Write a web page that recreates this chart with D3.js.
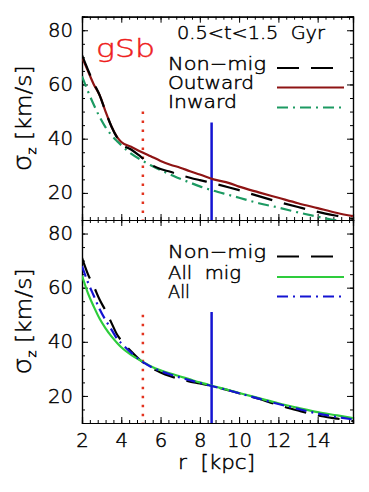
<!DOCTYPE html>
<html><head><meta charset="utf-8">
<script src="https://cdn.jsdelivr.net/npm/d3@7"></script>
<style>
html,body{margin:0;padding:0;background:#fff;}
svg{display:block;}
text{font-family:"DejaVu Sans",sans-serif;font-weight:200;fill:#000;stroke:#000;stroke-width:0.45px;}
</style></head>
<body><svg id="c" width="369" height="492"></svg>
<script>
// ---- data ----
const radius = [2, 2.3, 2.6, 2.9, 3.2, 3.5, 3.8, 4.0, 4.5, 5.0, 5.5, 6.0, 6.5, 7, 7.5, 8, 8.7, 9.5, 10, 11, 12, 13, 14, 15, 15.8];
// top panel
const nonMigTop = [70.8, 65.5, 60.5, 56, 50, 44.5, 40.2, 38.2, 36, 33.3, 30.5, 28.8, 27.8, 26.6, 25.6, 24.7, 23.5, 22, 21, 18.8, 16.7, 14.8, 13, 11.5, 10.4];
const outward   = [70, 65, 60, 56, 50, 44.5, 40.5, 38.8, 37, 35.2, 33.5, 31.8, 30.4, 29.3, 28, 26.8, 25, 23.6, 22.3, 20.2, 18.2, 16.2, 14.4, 12.6, 11.4];
const inward    = [63, 57.5, 52.5, 48, 44.2, 41.3, 39, 37.6, 34.5, 32.2, 30.2, 28.4, 26.8, 25.2, 23.8, 22.4, 20.8, 19.2, 18.2, 16.2, 14.6, 12.8, 11.2, 9.8, 9.0];
// bottom panel
const nonMigBot = [71, 65, 60.5, 55.5, 51.5, 47, 42.5, 40.5, 36.5, 33, 30.5, 28.7, 27.3, 26.2, 25.3, 24.6, 23.5, 22, 21, 19, 16.6, 14.6, 12.8, 11.6, 10.7];
const allMig    = [64.5, 58, 53, 48.5, 45, 42, 39.5, 38, 35.2, 33, 31, 29.5, 28.3, 27.2, 26.1, 25, 23.6, 22.1, 21.1, 19.2, 17.3, 15.6, 14, 12.8, 11.8];
const allStars  = [68, 62, 57, 52, 48, 44.5, 41, 39.5, 36, 33, 30.8, 29.2, 27.9, 26.8, 25.8, 24.8, 23.5, 22, 21, 19, 17, 15.2, 13.5, 12.2, 11.3];
const xTicks = [2, 4, 6, 8, 10, 12, 14];
const yTicks = [20, 40, 60, 80];
const rDotted = 5.1, rSolid = 8.6;
const dottedTop = 50, solidTopA = 46, solidTopB = 51;

// ---- layout ----
const svg = d3.select("#c");
const L = 82, R = 353;
const panels = [{t: 16.7, b: 220}, {t: 220, b: 423}];
const x = d3.scaleLinear().domain([2, 15.8]).range([L, R]);
const xMinor = d3.range(2, 15.81, 0.4);
const yMinor = d3.range(10, 85.1, 5);

const colBlack = "#000", colOut = "#8e1414", colIn = "#1c9a62", colAllMig = "#2ecc3c", colAll = "#1414d2", colDot = "#e2331f";
const dashLong = "22,12", dashDot = "11,5,2,5";

function fit(sel, w) {
  sel.attr("textLength", w).attr("lengthAdjust", "spacingAndGlyphs");
}

function drawPanel(p, idx, series, legend) {
  const y = d3.scaleLinear().domain([10, 85]).range([p.b, p.t]);
  const g = svg.append("g");
  const clipId = "clip" + idx;
  svg.append("clipPath").attr("id", clipId).append("rect")
    .attr("x", L).attr("y", p.t).attr("width", R - L).attr("height", p.b - p.t);

  const styleAx = sel => { sel.select(".domain").attr("stroke", "#000").attr("stroke-width", 1.2);
    sel.selectAll(".tick line").attr("stroke", "#000").attr("stroke-width", 1); };
  // left
  g.append("g").attr("transform", `translate(${L},0)`)
    .call(d3.axisLeft(y).tickValues(yMinor).tickSize(-3).tickFormat("")).call(styleAx);
  const la = g.append("g").attr("transform", `translate(${L},0)`)
    .call(d3.axisLeft(y).tickValues(yTicks).tickSize(-6).tickPadding(9).tickFormat(d3.format("d"))).call(styleAx);
  la.selectAll("text").attr("font-size", 19).attr("font-family", "DejaVu Sans").call(fit, 25);
  // right
  g.append("g").attr("transform", `translate(${R},0)`)
    .call(d3.axisRight(y).tickValues(yMinor).tickSize(-3).tickFormat("")).call(styleAx);
  g.append("g").attr("transform", `translate(${R},0)`)
    .call(d3.axisRight(y).tickValues(yTicks).tickSize(-6).tickFormat("")).call(styleAx);
  // top
  g.append("g").attr("transform", `translate(0,${p.t})`)
    .call(d3.axisTop(x).tickValues(xMinor).tickSize(-3).tickFormat("")).call(styleAx);
  g.append("g").attr("transform", `translate(0,${p.t})`)
    .call(d3.axisTop(x).tickValues(xTicks).tickSize(-6).tickFormat("")).call(styleAx);
  // bottom
  g.append("g").attr("transform", `translate(0,${p.b})`)
    .call(d3.axisBottom(x).tickValues(xMinor).tickSize(-3).tickFormat("")).call(styleAx);
  const ba = g.append("g").attr("transform", `translate(0,${p.b})`)
    .call(d3.axisBottom(x).tickValues(xTicks).tickSize(-6).tickPadding(11).tickFormat(idx === 1 ? d3.format("d") : ""))
    .call(styleAx);
  ba.selectAll("text").attr("font-size", 19).attr("font-family", "DejaVu Sans")
    .each(function(d) { d3.select(this).call(fit, d >= 10 ? 25 : 12.5); });

  // y label
  const yl = g.append("text")
    .attr("transform", `translate(31,${(p.t + p.b) / 2}) rotate(-90)`)
    .attr("text-anchor", "middle").attr("font-size", 21);
  yl.append("tspan").attr("font-size", 24).text("σ");
  yl.append("tspan").attr("font-size", 12).attr("dy", 5).text("z");
  yl.append("tspan").attr("dy", -5).attr("xml:space", "preserve").text(" [km/s]");
  yl.call(fit, 106);

  // vertical markers
  const cg = g.append("g").attr("clip-path", `url(#${clipId})`);
  cg.append("line").attr("x1", x(rDotted)).attr("x2", x(rDotted))
    .attr("y1", y(dottedTop)).attr("y2", y(10))
    .attr("stroke", colDot).attr("stroke-width", 2.5).attr("stroke-dasharray", "2.5,6.5");
  cg.append("line").attr("x1", x(rSolid)).attr("x2", x(rSolid))
    .attr("y1", y(idx === 0 ? solidTopA : solidTopB)).attr("y2", y(10))
    .attr("stroke", colAll).attr("stroke-width", 2.5);

  const line = d3.line().x((d, i) => x(radius[i])).y(d => y(d)).curve(d3.curveMonotoneX);
  series.forEach(s => {
    cg.append("path").datum(s.v).attr("d", line).attr("fill", "none")
      .attr("stroke", s.c).attr("stroke-width", 2.2)
      .attr("stroke-dasharray", s.d || null);
  });

  // legend
  legend.forEach(l => {
    g.append("text").attr("x", 168).attr("y", l.y).attr("font-size", 18)
      .attr("xml:space", "preserve").text(l.label).call(fit, l.w);
    g.append("line").attr("x1", 277).attr("x2", 344).attr("y1", l.ly).attr("y2", l.ly)
      .attr("stroke", l.c).attr("stroke-width", 2.2).attr("stroke-dasharray", l.d || null);
  });
}

drawPanel(panels[0], 0, [
  {v: inward, c: colIn, d: dashDot},
  {v: outward, c: colOut},
  {v: nonMigTop, c: colBlack, d: dashLong}
], [
  {label: "Non−mig", y: 70, ly: 68, c: colBlack, d: dashLong, w: 98},
  {label: "Outward", y: 89, ly: 87.5, c: colOut, w: 86},
  {label: "Inward", y: 108, ly: 107.5, c: colIn, d: dashDot, w: 69}
]);
drawPanel(panels[1], 1, [
  {v: nonMigBot, c: colBlack, d: dashLong},
  {v: allMig, c: colAllMig},
  {v: allStars, c: colAll, d: dashDot}
], [
  {label: "Non−mig", y: 258, ly: 256.5, c: colBlack, d: dashLong, w: 98},
  {label: "All  mig", y: 279, ly: 277, c: colAllMig, w: 73},
  {label: "All", y: 298, ly: 296.5, c: colAll, d: dashDot, w: 22}
]);

svg.append("text").attr("x", 177).attr("y", 39).attr("font-size", 17.5)
  .attr("xml:space", "preserve").text("0.5<t<1.5  Gyr").call(fit, 148);
svg.append("text").attr("x", 96).attr("y", 57).attr("font-size", 25)
  .style("fill", "#ee1c1c").style("stroke", "#ee1c1c").text("gSb").call(fit, 59);
svg.append("text").attr("x", 178).attr("y", 469)
  .attr("font-size", 19).attr("xml:space", "preserve").text("r  [kpc]").call(fit, 77);
</script>
</body></html>
